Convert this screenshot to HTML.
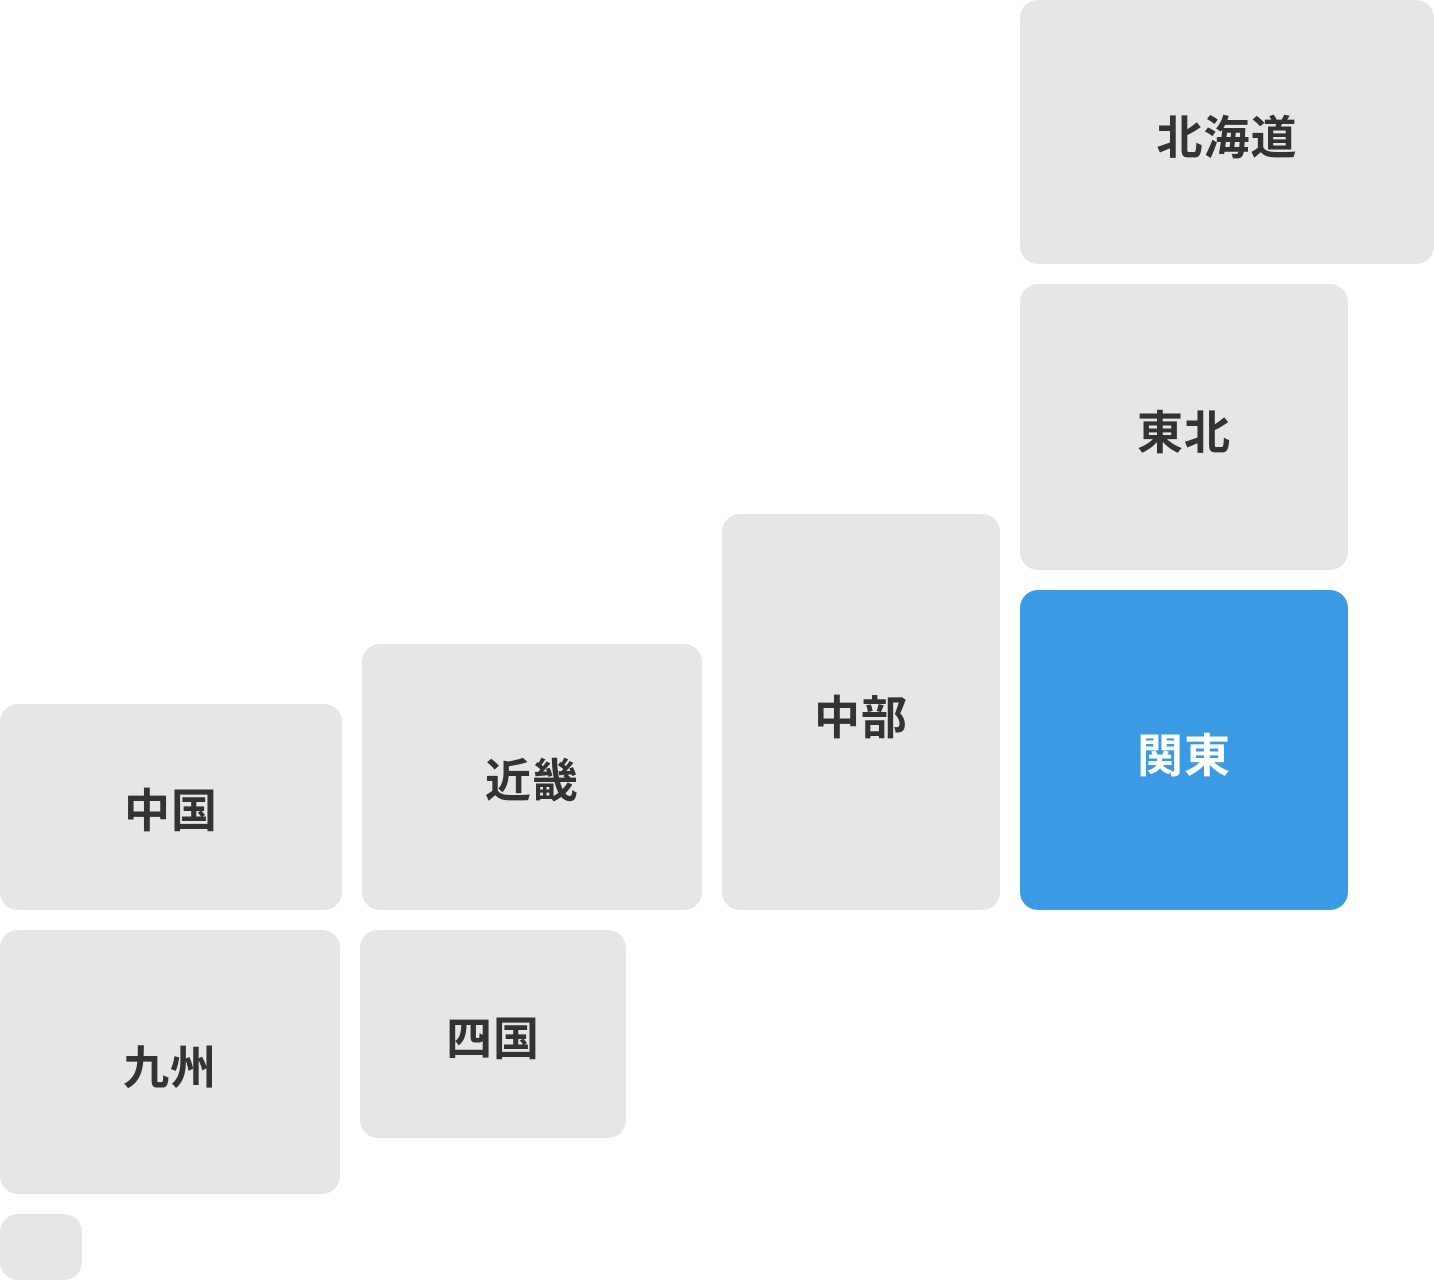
<!DOCTYPE html>
<html><head><meta charset="utf-8"><style>
html,body{margin:0;padding:0;background:#fff;}
body{width:1434px;height:1280px;position:relative;overflow:hidden;font-family:"Liberation Sans","Noto Sans CJK JP",sans-serif;}
.b{position:absolute;background:#e6e6e6;border-radius:18px;display:flex;align-items:center;justify-content:center;font-weight:700;font-size:46px;color:#333;letter-spacing:1px;box-sizing:border-box;}
.k{background:#3b9ae4;color:#fff;}
</style></head><body>
<div class="b" style="left:1020px;top:0;width:414px;height:264px;padding-top:6px">北海道</div>
<div class="b" style="left:1020px;top:284px;width:328px;height:286px;padding-top:6px">東北</div>
<div class="b k" style="left:1020px;top:590px;width:328px;height:320px;padding-top:6px">関東</div>
<div class="b" style="left:722px;top:514px;width:278px;height:396px;padding-top:6px">中部</div>
<div class="b" style="left:362px;top:644px;width:340px;height:266px;padding-top:2px">近畿</div>
<div class="b" style="left:0;top:704px;width:342px;height:206px;padding-top:2px">中国</div>
<div class="b" style="left:0;top:930px;width:340px;height:264px;padding-top:6px">九州</div>
<div class="b" style="left:360px;top:930px;width:266px;height:208px;padding-top:4px">四国</div>
<div class="b" style="left:0;top:1214px;width:82px;height:66px"></div>
</body></html>
